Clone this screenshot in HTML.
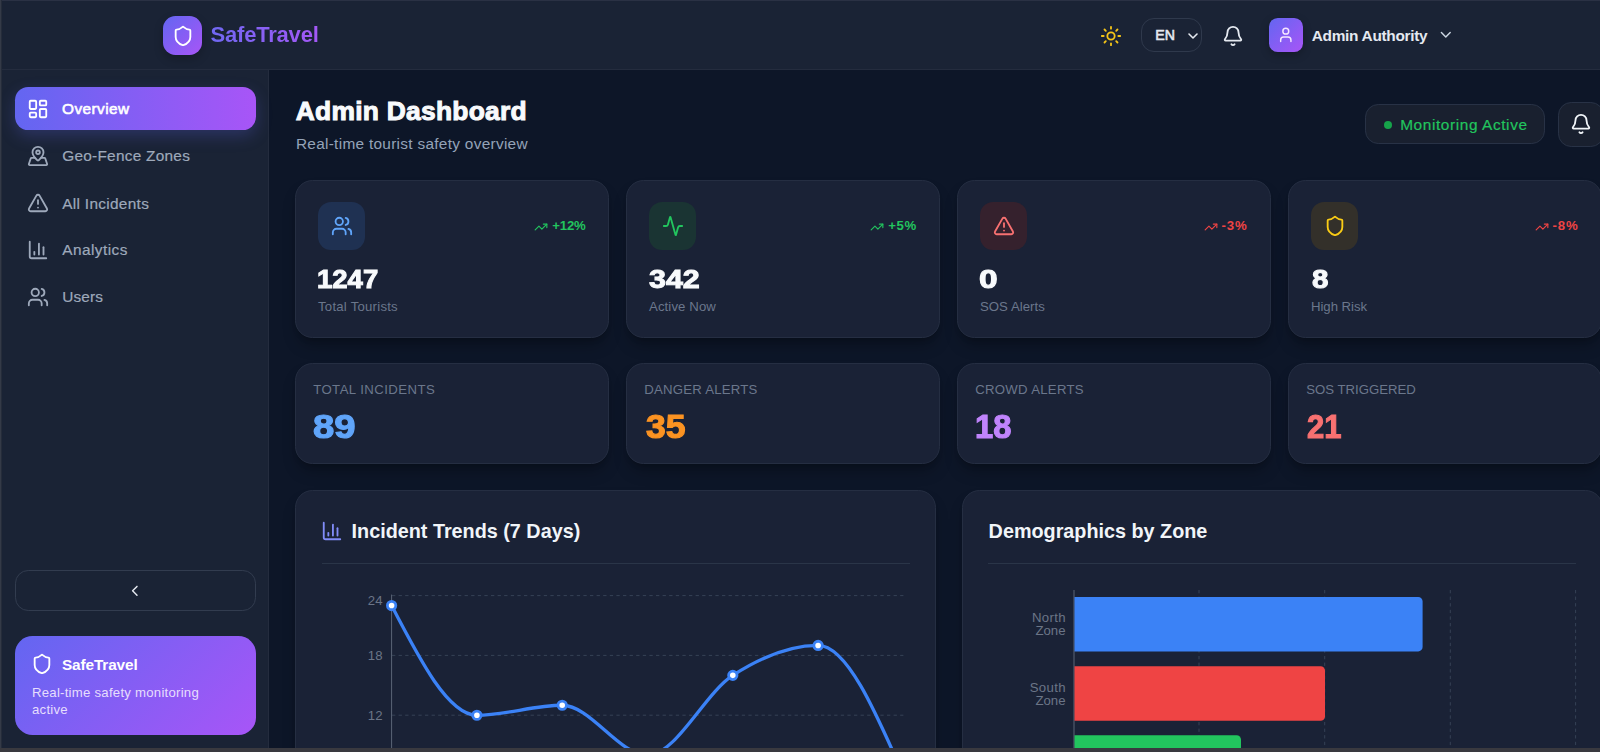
<!DOCTYPE html>
<html><head><meta charset="utf-8"><title>SafeTravel Admin Dashboard</title>
<style>
*{box-sizing:border-box;margin:0;padding:0}
html,body{width:1600px;height:752px;overflow:hidden;background:#0d1628;font-family:"Liberation Sans",sans-serif;}
.a{position:absolute}
.t{position:absolute;white-space:nowrap;line-height:1}
svg.i{position:absolute;fill:none;stroke-linecap:round;stroke-linejoin:round;overflow:visible}
.card{position:absolute;background:#1a2236;border:1px solid #252e42;border-radius:17.6px;box-shadow:0 10px 15px -3px rgba(0,0,0,.25),0 4px 6px -4px rgba(0,0,0,.25)}
.tr{position:absolute;display:flex;align-items:center;gap:4px;line-height:1;white-space:nowrap;font-size:13.2px;font-weight:700}
</style></head>
<body>
<div class="a" style="left:0px;top:0px;width:1600px;height:70px;background:#1a2335;border-bottom:1px solid #242c3e"></div>
<div class="a" style="left:163.2px;top:16px;width:38.8px;height:39.2px;border-radius:12.5px;background:linear-gradient(135deg,#6366f1,#a855f7);box-shadow:0 4px 10px rgba(0,0,0,.22)"></div>
<svg class="i" style="left:171.50px;top:24.50px" width="22" height="22" viewBox="0 0 24 24" stroke="#fff" stroke-width="2"><path d="M20 13c0 5-3.5 7.5-7.66 8.95a1 1 0 0 1-.67-.01C7.5 20.5 4 18 4 13V6a1 1 0 0 1 1-1c2 0 4.5-1.2 6.24-2.72a1.17 1.17 0 0 1 1.52 0C14.51 3.81 17 5 19 5a1 1 0 0 1 1 1z"/></svg>
<div class="t" style="left:210.50px;top:24.13px;font-size:22px;font-weight:700;letter-spacing:-.2px;background:linear-gradient(90deg,#7068f2,#a458f6);-webkit-background-clip:text;background-clip:text;color:transparent;padding-bottom:4px">SafeTravel</div>
<svg class="i" style="left:1100.20px;top:24.75px" width="22" height="22" viewBox="0 0 24 24" stroke="#f5c518" stroke-width="2"><circle cx="12" cy="12" r="4"/><path d="M12 2v2"/><path d="M12 20v2"/><path d="m4.93 4.93 1.41 1.41"/><path d="m17.66 17.66 1.41 1.41"/><path d="M2 12h2"/><path d="M20 12h2"/><path d="m6.34 17.66-1.41 1.41"/><path d="m19.07 4.93-1.41 1.41"/></svg>
<div class="a" style="left:1141px;top:18px;width:61px;height:34px;border:1px solid #2f394c;border-radius:13px"></div>
<div class="t" style="left:1155.20px;top:28.45px;font-size:14.2px;font-weight:400;color:#e5e9f0;-webkit-text-stroke:.55px #e5e9f0;letter-spacing:.2px">EN</div>
<svg class="i" style="left:1184.60px;top:28.10px" width="16" height="16" viewBox="0 0 24 24" stroke="#e5e9f0" stroke-width="2.4"><path d="m6 9 6 6 6-6"/></svg>
<svg class="i" style="left:1221.60px;top:24.90px" width="22" height="22" viewBox="0 0 24 24" stroke="#e5e9f0" stroke-width="2"><path d="M10.268 21a2 2 0 0 0 3.464 0"/><path d="M3.262 15.326A1 1 0 0 0 4 17h16a1 1 0 0 0 .74-1.673C19.41 13.956 18 12.499 18 8A6 6 0 0 0 6 8c0 4.499-1.411 5.956-2.738 7.326"/></svg>
<div class="a" style="left:1269px;top:17.8px;width:34.2px;height:34.6px;border-radius:8.8px;background:linear-gradient(135deg,#6366f1,#a855f7);box-shadow:0 3px 8px rgba(0,0,0,.25)"></div>
<svg class="i" style="left:1277.40px;top:26.40px" width="17.6" height="17.6" viewBox="0 0 24 24" stroke="#f5e6ff" stroke-width="2"><path d="M19 21v-2a4 4 0 0 0-4-4H9a4 4 0 0 0-4 4v2"/><circle cx="12" cy="7" r="4"/></svg>
<div class="t" style="left:1311.80px;top:28.19px;font-size:15.4px;font-weight:700;color:#e5e9f0;letter-spacing:-.3px">Admin Authority</div>
<svg class="i" style="left:1436.50px;top:26.00px" width="17.6" height="17.6" viewBox="0 0 24 24" stroke="#cbd5e1" stroke-width="2"><path d="m6 9 6 6 6-6"/></svg>
<div class="a" style="left:0px;top:70px;width:269px;height:678px;background:#1a2335;border-right:1px solid #242c3e"></div>
<div class="a" style="left:15px;top:86.5px;width:241px;height:43.5px;border-radius:13.2px;background:linear-gradient(90deg,#6366f1,#a855f7);box-shadow:0 6px 16px rgba(99,102,241,.25)"></div>
<svg class="i" style="left:27.10px;top:97.60px" width="22" height="22" viewBox="0 0 24 24" stroke="#fff" stroke-width="2"><rect width="7" height="9" x="3" y="3" rx="1"/><rect width="7" height="5" x="14" y="3" rx="1"/><rect width="7" height="9" x="14" y="12" rx="1"/><rect width="7" height="5" x="3" y="16" rx="1"/></svg>
<div class="t" style="left:62.10px;top:100.99px;font-size:15.4px;font-weight:400;color:#fff;letter-spacing:.4px;-webkit-text-stroke:.6px #fff">Overview</div>
<svg class="i" style="left:27.10px;top:144.80px" width="22" height="22" viewBox="0 0 24 24" stroke="#9ea9bb" stroke-width="2"><path d="M18 8c0 3.613-3.869 7.429-5.393 8.795a1 1 0 0 1-1.214 0C9.87 15.429 6 11.613 6 8a6 6 0 0 1 12 0"/><circle cx="12" cy="8" r="2"/><path d="M8.714 14h-3.71a1 1 0 0 0-.948.683l-2.004 6A1 1 0 0 0 3 22h18a1 1 0 0 0 .948-1.316l-2-6a1 1 0 0 0-.949-.684h-3.712"/></svg>
<div class="t" style="left:62.20px;top:148.19px;font-size:15.4px;color:#9ea9bb;letter-spacing:0.26px;-webkit-text-stroke:.2px #9ea9bb">Geo-Fence Zones</div>
<svg class="i" style="left:27.10px;top:191.75px" width="22" height="22" viewBox="0 0 24 24" stroke="#9ea9bb" stroke-width="2"><path d="m21.73 18-8-14a2 2 0 0 0-3.48 0l-8 14A2 2 0 0 0 4 21h16a2 2 0 0 0 1.73-3"/><path d="M12 9v4"/><path d="M12 17h.01"/></svg>
<div class="t" style="left:62.20px;top:195.59px;font-size:15.4px;color:#9ea9bb;letter-spacing:0.31px;-webkit-text-stroke:.2px #9ea9bb">All Incidents</div>
<svg class="i" style="left:27.10px;top:239.00px" width="22" height="22" viewBox="0 0 24 24" stroke="#9ea9bb" stroke-width="2"><path d="M3 3v16a2 2 0 0 0 2 2h16"/><path d="M18 17V9"/><path d="M13 17V5"/><path d="M8 17v-3"/></svg>
<div class="t" style="left:62.20px;top:242.49px;font-size:15.4px;color:#9ea9bb;letter-spacing:0.45px;-webkit-text-stroke:.2px #9ea9bb">Analytics</div>
<svg class="i" style="left:27.10px;top:286.00px" width="22" height="22" viewBox="0 0 24 24" stroke="#9ea9bb" stroke-width="2"><path d="M16 21v-2a4 4 0 0 0-4-4H6a4 4 0 0 0-4 4v2"/><circle cx="9" cy="7" r="4"/><path d="M22 21v-2a4 4 0 0 0-3-3.87"/><path d="M16 3.13a4 4 0 0 1 0 7.75"/></svg>
<div class="t" style="left:62.20px;top:289.19px;font-size:15.4px;color:#9ea9bb;letter-spacing:0.16px;-webkit-text-stroke:.2px #9ea9bb">Users</div>
<div class="a" style="left:15px;top:570px;width:241px;height:41px;border:1px solid #323c4f;border-radius:13.2px"></div>
<svg class="i" style="left:126.20px;top:581.90px" width="17.6" height="17.6" viewBox="0 0 24 24" stroke="#e5e9f0" stroke-width="2"><path d="m15 18-6-6 6-6"/></svg>
<div class="a" style="left:15px;top:636px;width:241px;height:99px;border-radius:17.6px;background:linear-gradient(135deg,#6366f1,#a855f7)"></div>
<svg class="i" style="left:31.20px;top:653.00px" width="22" height="22" viewBox="0 0 24 24" stroke="#fff" stroke-width="2"><path d="M20 13c0 5-3.5 7.5-7.66 8.95a1 1 0 0 1-.67-.01C7.5 20.5 4 18 4 13V6a1 1 0 0 1 1-1c2 0 4.5-1.2 6.24-2.72a1.17 1.17 0 0 1 1.52 0C14.51 3.81 17 5 19 5a1 1 0 0 1 1 1z"/></svg>
<div class="t" style="left:62.00px;top:656.99px;font-size:15.4px;font-weight:700;color:#fff;letter-spacing:-.15px">SafeTravel</div>
<div class="t" style="left:32.00px;top:685.88px;font-size:13.2px;color:#e6defd;letter-spacing:.24px">Real-time safety monitoring</div>
<div class="t" style="left:32.00px;top:702.78px;font-size:13.2px;color:#e6defd;letter-spacing:.24px">active</div>
<div class="t" style="left:295.80px;top:97.95px;font-size:26.4px;font-weight:700;color:#f8fafc;letter-spacing:.25px;-webkit-text-stroke:1px #f8fafc">Admin Dashboard</div>
<div class="t" style="left:295.90px;top:136.19px;font-size:15.4px;color:#94a3b8;letter-spacing:.29px">Real-time tourist safety overview</div>
<div class="a" style="left:1365px;top:104px;width:180px;height:40px;border:1px solid #283246;border-radius:13.2px;background:#19202f"></div>
<div class="a" style="left:1383.5px;top:120.5px;width:8px;height:8px;border-radius:50%;background:#16a34a"></div>
<div class="t" style="left:1400.20px;top:116.79px;font-size:15.4px;color:#22c55e;letter-spacing:.6px;-webkit-text-stroke:.2px #22c55e">Monitoring Active</div>
<div class="a" style="left:1558px;top:102px;width:46px;height:45px;border:1px solid #283246;border-radius:13.2px;background:#19202f"></div>
<svg class="i" style="left:1570.00px;top:113.00px" width="22" height="22" viewBox="0 0 24 24" stroke="#f1f5f9" stroke-width="2"><path d="M10.268 21a2 2 0 0 0 3.464 0"/><path d="M3.262 15.326A1 1 0 0 0 4 17h16a1 1 0 0 0 .74-1.673C19.41 13.956 18 12.499 18 8A6 6 0 0 0 6 8c0 4.499-1.411 5.956-2.738 7.326"/></svg>
<div class="card" style="left:295px;top:180px;width:314px;height:158px"></div>
<div class="card" style="left:626px;top:180px;width:314px;height:158px"></div>
<div class="card" style="left:957px;top:180px;width:314px;height:158px"></div>
<div class="card" style="left:1288px;top:180px;width:314px;height:158px"></div>
<div class="card" style="left:295px;top:363.3px;width:314px;height:100.5px"></div>
<div class="card" style="left:626px;top:363.3px;width:314px;height:100.5px"></div>
<div class="card" style="left:957px;top:363.3px;width:314px;height:100.5px"></div>
<div class="card" style="left:1288px;top:363.3px;width:314px;height:100.5px"></div>
<div class="a" style="left:318px;top:202px;width:47px;height:48px;border-radius:13.2px;background:#1f3152"></div>
<svg class="i" style="left:331.00px;top:215.00px" width="22" height="22" viewBox="0 0 24 24" stroke="#60a5fa" stroke-width="2"><path d="M16 21v-2a4 4 0 0 0-4-4H6a4 4 0 0 0-4 4v2"/><circle cx="9" cy="7" r="4"/><path d="M22 21v-2a4 4 0 0 0-3-3.87"/><path d="M16 3.13a4 4 0 0 1 0 7.75"/></svg>
<div class="tr" style="right:1014.30px;top:218.53px;color:#22c55e"><svg width="14" height="14" viewBox="0 0 24 24" stroke="#22c55e" stroke-width="2" fill="none" stroke-linecap="round" stroke-linejoin="round" style="margin-top:1px"><path d="M16 7h6v6"/><path d="m22 7-8.5 8.5-5-5L2 17"/></svg><span style="letter-spacing:-0.15px">+12%</span></div>
<div class="t" style="left:317.06px;top:265.75px;font-size:26.4px;font-weight:700;color:#f8fafc;-webkit-text-stroke:1px #f8fafc;transform:scaleX(1.042);transform-origin:0 0">1247</div>
<div class="t" style="left:318.00px;top:300.28px;font-size:13.2px;color:#6b778c;letter-spacing:0.23px">Total Tourists</div>
<div class="a" style="left:649px;top:202px;width:47px;height:48px;border-radius:13.2px;background:#1a3433"></div>
<svg class="i" style="left:662.00px;top:215.00px" width="22" height="22" viewBox="0 0 24 24" stroke="#22c55e" stroke-width="2"><path d="M22 12h-2.48a2 2 0 0 0-1.93 1.46l-2.35 8.36a.25.25 0 0 1-.48 0L9.24 2.18a.25.25 0 0 0-.48 0l-2.35 8.36A2 2 0 0 1 4.49 12H2"/></svg>
<div class="tr" style="right:683.30px;top:218.53px;color:#22c55e"><svg width="14" height="14" viewBox="0 0 24 24" stroke="#22c55e" stroke-width="2" fill="none" stroke-linecap="round" stroke-linejoin="round" style="margin-top:1px"><path d="M16 7h6v6"/><path d="m22 7-8.5 8.5-5-5L2 17"/></svg><span style="letter-spacing:0.6px">+5%</span></div>
<div class="t" style="left:649.20px;top:265.75px;font-size:26.4px;font-weight:700;color:#f8fafc;-webkit-text-stroke:1px #f8fafc;transform:scaleX(1.153);transform-origin:0 0">342</div>
<div class="t" style="left:649.00px;top:300.28px;font-size:13.2px;color:#6b778c;letter-spacing:0.1px">Active Now</div>
<div class="a" style="left:980px;top:202px;width:47px;height:48px;border-radius:13.2px;background:#35212d"></div>
<svg class="i" style="left:993.00px;top:215.00px" width="22" height="22" viewBox="0 0 24 24" stroke="#f87171" stroke-width="2"><path d="m21.73 18-8-14a2 2 0 0 0-3.48 0l-8 14A2 2 0 0 0 4 21h16a2 2 0 0 0 1.73-3"/><path d="M12 9v4"/><path d="M12 17h.01"/></svg>
<div class="tr" style="right:352.30px;top:218.53px;color:#ef4444"><svg width="14" height="14" viewBox="0 0 24 24" stroke="#ef4444" stroke-width="2" fill="none" stroke-linecap="round" stroke-linejoin="round" style="margin-top:1px"><path d="M16 7h6v6"/><path d="m22 7-8.5 8.5-5-5L2 17"/></svg><span style="letter-spacing:0.9px">-3%</span></div>
<div class="t" style="left:979.10px;top:265.75px;font-size:26.4px;font-weight:700;color:#f8fafc;-webkit-text-stroke:1px #f8fafc;transform:scaleX(1.27);transform-origin:0 0">0</div>
<div class="t" style="left:980.00px;top:300.28px;font-size:13.2px;color:#6b778c;letter-spacing:0.03px">SOS Alerts</div>
<div class="a" style="left:1311px;top:202px;width:47px;height:48px;border-radius:13.2px;background:#33302a"></div>
<svg class="i" style="left:1324.00px;top:215.00px" width="22" height="22" viewBox="0 0 24 24" stroke="#facc15" stroke-width="2"><path d="M20 13c0 5-3.5 7.5-7.66 8.95a1 1 0 0 1-.67-.01C7.5 20.5 4 18 4 13V6a1 1 0 0 1 1-1c2 0 4.5-1.2 6.24-2.72a1.17 1.17 0 0 1 1.52 0C14.51 3.81 17 5 19 5a1 1 0 0 1 1 1z"/></svg>
<div class="tr" style="right:21.30px;top:218.53px;color:#ef4444"><svg width="14" height="14" viewBox="0 0 24 24" stroke="#ef4444" stroke-width="2" fill="none" stroke-linecap="round" stroke-linejoin="round" style="margin-top:1px"><path d="M16 7h6v6"/><path d="m22 7-8.5 8.5-5-5L2 17"/></svg><span style="letter-spacing:0.9px">-8%</span></div>
<div class="t" style="left:1311.60px;top:265.75px;font-size:26.4px;font-weight:700;color:#f8fafc;-webkit-text-stroke:1px #f8fafc;transform:scaleX(1.12);transform-origin:0 0">8</div>
<div class="t" style="left:1311.00px;top:300.28px;font-size:13.2px;color:#6b778c;letter-spacing:-0.05px">High Risk</div>
<div class="t" style="left:313.20px;top:383.48px;font-size:13.2px;color:#6b778c;letter-spacing:0.43px">TOTAL INCIDENTS</div>
<div class="t" style="left:313.04px;top:410.49px;font-size:33px;font-weight:700;color:#60a5fa;-webkit-text-stroke:1.1px #60a5fa;transform:scaleX(1.16);transform-origin:0 0">89</div>
<div class="t" style="left:644.20px;top:383.48px;font-size:13.2px;color:#6b778c;letter-spacing:0.23px">DANGER ALERTS</div>
<div class="t" style="left:645.80px;top:410.49px;font-size:33px;font-weight:700;color:#fb9322;-webkit-text-stroke:1.1px #fb9322;transform:scaleX(1.078);transform-origin:0 0">35</div>
<div class="t" style="left:975.20px;top:383.48px;font-size:13.2px;color:#6b778c;letter-spacing:0.29px">CROWD ALERTS</div>
<div class="t" style="left:974.50px;top:410.49px;font-size:33px;font-weight:700;color:#c084fc;-webkit-text-stroke:1.1px #c084fc;transform:scaleX(0.99);transform-origin:0 0">18</div>
<div class="t" style="left:1306.20px;top:383.48px;font-size:13.2px;color:#6b778c;letter-spacing:0px">SOS TRIGGERED</div>
<div class="t" style="left:1306.80px;top:410.49px;font-size:33px;font-weight:700;color:#f87171;-webkit-text-stroke:1.1px #f87171;transform:scaleX(0.94);transform-origin:0 0">21</div>
<div class="card" style="left:295px;top:490px;width:641px;height:300px"></div>
<div class="card" style="left:962px;top:490px;width:641px;height:300px"></div>
<svg class="i" style="left:321.30px;top:520.00px" width="22" height="22" viewBox="0 0 24 24" stroke="#818cf8" stroke-width="2"><path d="M3 3v16a2 2 0 0 0 2 2h16"/><path d="M18 17V9"/><path d="M13 17V5"/><path d="M8 17v-3"/></svg>
<div class="t" style="left:351.60px;top:521.82px;font-size:19.8px;font-weight:700;color:#f1f5f9">Incident Trends (7 Days)</div>
<div class="a" style="left:322px;top:563px;width:588px;height:1px;background:#2a3548"></div>
<div class="t" style="left:988.60px;top:521.82px;font-size:19.8px;font-weight:700;color:#f1f5f9">Demographics by Zone</div>
<div class="a" style="left:988px;top:563px;width:588px;height:1px;background:#2a3548"></div>
<svg class="a" style="left:0;top:0" width="1600" height="752" viewBox="0 0 1600 752">
<line x1="392" y1="595.6" x2="903.4" y2="595.6" stroke="#364256" stroke-width="1" stroke-dasharray="3.3 3.3"/>
<line x1="392" y1="655.4" x2="903.4" y2="655.4" stroke="#364256" stroke-width="1" stroke-dasharray="3.3 3.3"/>
<line x1="392" y1="715.2" x2="903.4" y2="715.2" stroke="#364256" stroke-width="1" stroke-dasharray="3.3 3.3"/>
<line x1="391.6" y1="594.6" x2="391.6" y2="752" stroke="#5b6577" stroke-width="1"/>
<text x="382.5" y="600.3" dy="0.355em" text-anchor="end" font-family="Liberation Sans" font-size="13.2" fill="#6b7587">24</text>
<text x="382.5" y="655.7" dy="0.355em" text-anchor="end" font-family="Liberation Sans" font-size="13.2" fill="#6b7587">18</text>
<text x="382.5" y="715.7" dy="0.355em" text-anchor="end" font-family="Liberation Sans" font-size="13.2" fill="#6b7587">12</text>
<path d="M391.60,605.57C420.03,660.40,448.47,715.24,476.90,715.24C505.33,715.24,533.77,705.27,562.20,705.27C590.63,705.27,619.07,755.12,647.50,755.12C675.93,755.12,704.37,693.64,732.80,675.36C761.23,657.08,789.67,645.45,818.10,645.45C846.53,645.45,874.97,710.26,903.40,775.06" fill="none" stroke="#3b82f6" stroke-width="3.3"/>
<circle cx="391.60" cy="605.57" r="4.2" fill="#fff" stroke="#3b82f6" stroke-width="2.8"/>
<circle cx="476.90" cy="715.24" r="4.2" fill="#fff" stroke="#3b82f6" stroke-width="2.8"/>
<circle cx="562.20" cy="705.27" r="4.2" fill="#fff" stroke="#3b82f6" stroke-width="2.8"/>
<circle cx="647.50" cy="755.12" r="4.2" fill="#fff" stroke="#3b82f6" stroke-width="2.8"/>
<circle cx="732.80" cy="675.36" r="4.2" fill="#fff" stroke="#3b82f6" stroke-width="2.8"/>
<circle cx="818.10" cy="645.45" r="4.2" fill="#fff" stroke="#3b82f6" stroke-width="2.8"/>
<circle cx="903.40" cy="775.06" r="4.2" fill="#fff" stroke="#3b82f6" stroke-width="2.8"/>
<line x1="1199" y1="590" x2="1199" y2="752" stroke="#364256" stroke-width="1" stroke-dasharray="3.3 3.3"/>
<line x1="1324.7" y1="590" x2="1324.7" y2="752" stroke="#364256" stroke-width="1" stroke-dasharray="3.3 3.3"/>
<line x1="1450.3" y1="590" x2="1450.3" y2="752" stroke="#364256" stroke-width="1" stroke-dasharray="3.3 3.3"/>
<line x1="1575.6" y1="590" x2="1575.6" y2="752" stroke="#364256" stroke-width="1" stroke-dasharray="3.3 3.3"/>
<line x1="1074" y1="590" x2="1074" y2="752" stroke="#5b6577" stroke-width="1"/>
<path d="M1074.5,596.9H1418.1999999999998a4.4,4.4 0 0 1 4.4,4.4V647.0a4.4,4.4 0 0 1 -4.4,4.4H1074.5z" fill="#3b82f6"/>
<path d="M1074.5,666.2H1320.6a4.4,4.4 0 0 1 4.4,4.4V716.3000000000001a4.4,4.4 0 0 1 -4.4,4.4H1074.5z" fill="#ef4444"/>
<path d="M1074.5,735.2H1236.6a4.4,4.4 0 0 1 4.4,4.4V785.3000000000001a4.4,4.4 0 0 1 -4.4,4.4H1074.5z" fill="#22c55e"/>
<text x="1065.9" y="617.6" dy="0.355em" text-anchor="end" font-family="Liberation Sans" font-size="13.2" letter-spacing=".35" fill="#6b7587">North</text>
<text x="1065.5" y="630.8000000000001" dy="0.355em" text-anchor="end" font-family="Liberation Sans" font-size="13.2" fill="#6b7587">Zone</text>
<text x="1065.9" y="687.5" dy="0.355em" text-anchor="end" font-family="Liberation Sans" font-size="13.2" letter-spacing=".35" fill="#6b7587">South</text>
<text x="1065.5" y="700.7" dy="0.355em" text-anchor="end" font-family="Liberation Sans" font-size="13.2" fill="#6b7587">Zone</text>
</svg>
<div class="a" style="left:0px;top:0px;width:1600px;height:1px;background:#2a3144"></div>
<div class="a" style="left:0px;top:0px;width:1px;height:752px;background:#343a47"></div>
<div class="a" style="left:1px;top:0px;width:1px;height:752px;background:#252c3a"></div>
<div class="a" style="left:0px;top:748px;width:1600px;height:4px;background:#39393f"></div>
</body></html>
